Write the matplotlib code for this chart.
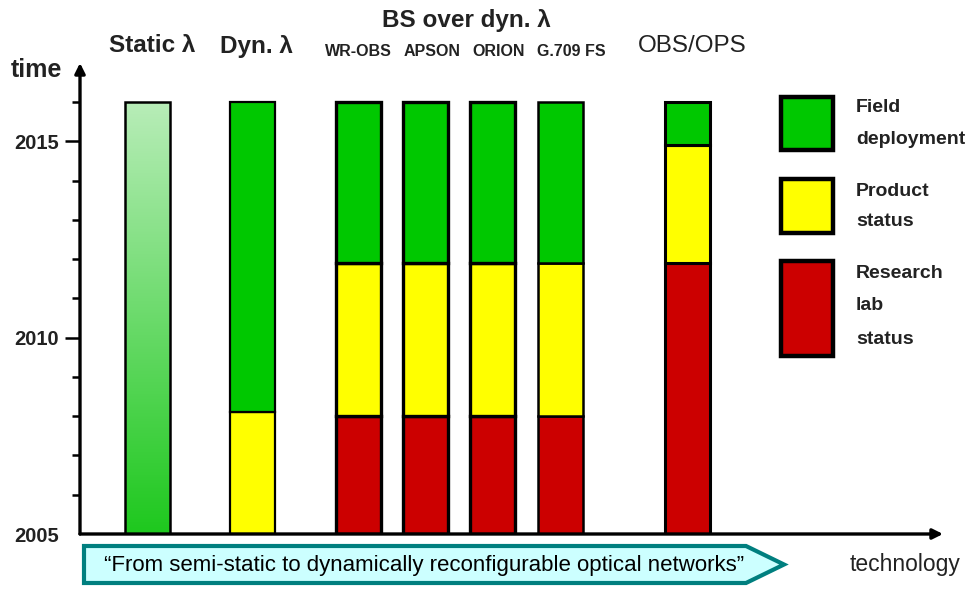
import matplotlib
matplotlib.use("Agg")
import matplotlib.pyplot as plt
import numpy as np
from matplotlib.patches import Rectangle, Polygon
from matplotlib.colors import LinearSegmentedColormap

plt.rcParams['font.family'] = ['Liberation Sans', 'DejaVu Sans']

# ---- data ----
categories = ["Static λ", "Dyn. λ", "WR-OBS", "APSON", "ORION", "G.709 FS", "OBS/OPS"]
base_year = 2005
research_end = [None, None, 2008.0, 2008.0, 2008.0, 2008.0, 2011.9]   # red top
product_end = [None, 2008.1, 2011.9, 2011.9, 2011.9, 2011.9, 2014.9]  # yellow top
field_end = [2016.0, 2016.0, 2016.0, 2016.0, 2016.0, 2016.0, 2016.0]  # green top
legend_labels = ["Field\ndeployment", "Product\nstatus", "Research\nlab\nstatus"]
year_ticks = [2005, 2010, 2015]

# ---- layout ----
x_pos = [148, 253, 359, 426, 493, 561, 688]
sub_x = [None, None, 358, 432, 499, 571, None]
bar_w = 45
edge_lw = [1.8, 1.6, 2.4, 2.4, 2.4, 1.8, 2.2]
GREEN, YELLOW, RED = '#00c800', '#ffff00', '#cc0000'

W, H = 968, 590
fig = plt.figure(figsize=(W / 100, H / 100), dpi=100)

def fx(px):
    return px / W

def fy(py):
    return 1 - py / H

ax_left, ax_right, ax_bottom, ax_top = 80, 943, 534, 63
px_per_year = 39.26
ax = fig.add_axes([fx(ax_left), fy(ax_bottom), fx(ax_right - ax_left), (ax_bottom - ax_top) / H])
ax.set_xlim(ax_left, ax_right)
ax.set_ylim(base_year, base_year + (ax_bottom - ax_top) / px_per_year)
ax.patch.set_alpha(0)
for s in ax.spines.values():
    s.set_visible(False)

# bars
for i, cat in enumerate(categories):
    x = x_pos[i]
    lw = edge_lw[i]
    segs = []
    lo = base_year
    if research_end[i] is not None:
        segs.append((lo, research_end[i], RED))
        lo = research_end[i]
    if product_end[i] is not None:
        segs.append((lo, product_end[i], YELLOW))
        lo = product_end[i]
    if i == 0:
        cmap = LinearSegmentedColormap.from_list('g', ['#1ec81e', '#b8edb8'])
        grad = np.linspace(0, 1, 256).reshape(-1, 1)
        rect = Rectangle((x - bar_w / 2, lo), bar_w, field_end[i] - lo,
                         facecolor='none', edgecolor='none')
        ax.add_patch(rect)
        im = ax.imshow(grad, cmap=cmap, origin='lower', aspect='auto',
                       extent=[x - bar_w / 2, x + bar_w / 2, lo, field_end[i]], zorder=2)
        im.set_clip_path(rect)
        ax.bar(x, field_end[i] - lo, bottom=lo, width=bar_w, facecolor='none',
               edgecolor='black', linewidth=lw, zorder=3)
    else:
        segs.append((lo, field_end[i], GREEN))
        for (b, t, c) in segs:
            ax.bar(x, t - b, bottom=b, width=bar_w, color=c, edgecolor='black',
                   linewidth=lw, zorder=3)

ax.set_aspect('auto')
ax.set_xlim(ax_left, ax_right)
ax.set_ylim(base_year, base_year + (ax_bottom - ax_top) / px_per_year)

# ticks
ax.set_xticks([])
ax.set_yticks(year_ticks)
ax.set_yticklabels([str(y) for y in year_ticks], fontsize=14.5, fontweight='bold', color='#222222')
ax.set_yticks(range(2006, 2017), minor=True)
ax.tick_params(axis='y', which='major', length=11, width=1.8, pad=4, color='black')
ax.tick_params(axis='y', which='minor', length=5.5, width=1.8, color='black')
ax.yaxis.get_major_ticks()[0].tick1line.set_visible(False)

# axis arrows
ax.annotate('', xy=(0, 1), xytext=(0, 0), xycoords='axes fraction',
            arrowprops=dict(arrowstyle='-|>,head_length=0.6,head_width=0.3', lw=2.4,
                            color='black', shrinkA=0, shrinkB=0), zorder=5)
ax.annotate('', xy=(1, 0), xytext=(0, 0), xycoords='axes fraction',
            arrowprops=dict(arrowstyle='-|>,head_length=0.6,head_width=0.3', lw=2.4,
                            color='black', shrinkA=0, shrinkB=0), zorder=5)

# overlay for labels, legend, banner (pixel coords)
ov = fig.add_axes([0, 0, 1, 1])
ov.set_xlim(0, W)
ov.set_ylim(H, 0)
ov.axis('off')
ov.patch.set_alpha(0)

tc = '#222222'
ov.text(36, 70, "time", fontsize=18, fontweight='bold', ha='center', va='center', color=tc)
ov.text(152, 46, categories[0], fontsize=17.5, fontweight='bold', ha='center', va='center', color=tc)
ov.text(256, 46, categories[1], fontsize=17.5, fontweight='bold', ha='center', va='center', color=tc)
ov.text(466, 20, "BS over dyn. λ", fontsize=17.5, fontweight='bold', ha='center', va='center', color=tc)
for i in range(2, 6):
    ov.text(sub_x[i], 52, categories[i], fontsize=11.5, fontweight='bold', ha='center',
            va='center', color=tc)
ov.text(692, 46, categories[6], fontsize=17.5, ha='center', va='center', color=tc)
ov.text(905, 564, "technology", fontsize=16.5, ha='center', va='center', color=tc)

# legend
leg_boxes = [(97, 150, GREEN), (179, 233, YELLOW), (261, 356, RED)]
for (t, b, c) in leg_boxes:
    ov.add_patch(Rectangle((781, t), 52, b - t, facecolor=c, edgecolor='black',
                           linewidth=3.2, zorder=3))
leg_lines_y = [[108, 140], [191, 222], [273, 306, 339]]
for lab, ys in zip(legend_labels, leg_lines_y):
    for line, yy in zip(lab.split('\n'), ys):
        ov.text(856, yy, line, fontsize=14, fontweight='bold', ha='left', va='center', color=tc)

# banner arrow
banner = Polygon([(84, 546), (746, 546), (784, 564.5), (746, 583), (84, 583)],
                 closed=True, facecolor='#ccffff', edgecolor='#007f7f', linewidth=3)
ov.add_patch(banner)
ov.text(424, 565, "“From semi-static to dynamically reconfigurable optical networks”",
        fontsize=16, ha='center', va='center', color='black')

fig.savefig('out.png', dpi=100)
